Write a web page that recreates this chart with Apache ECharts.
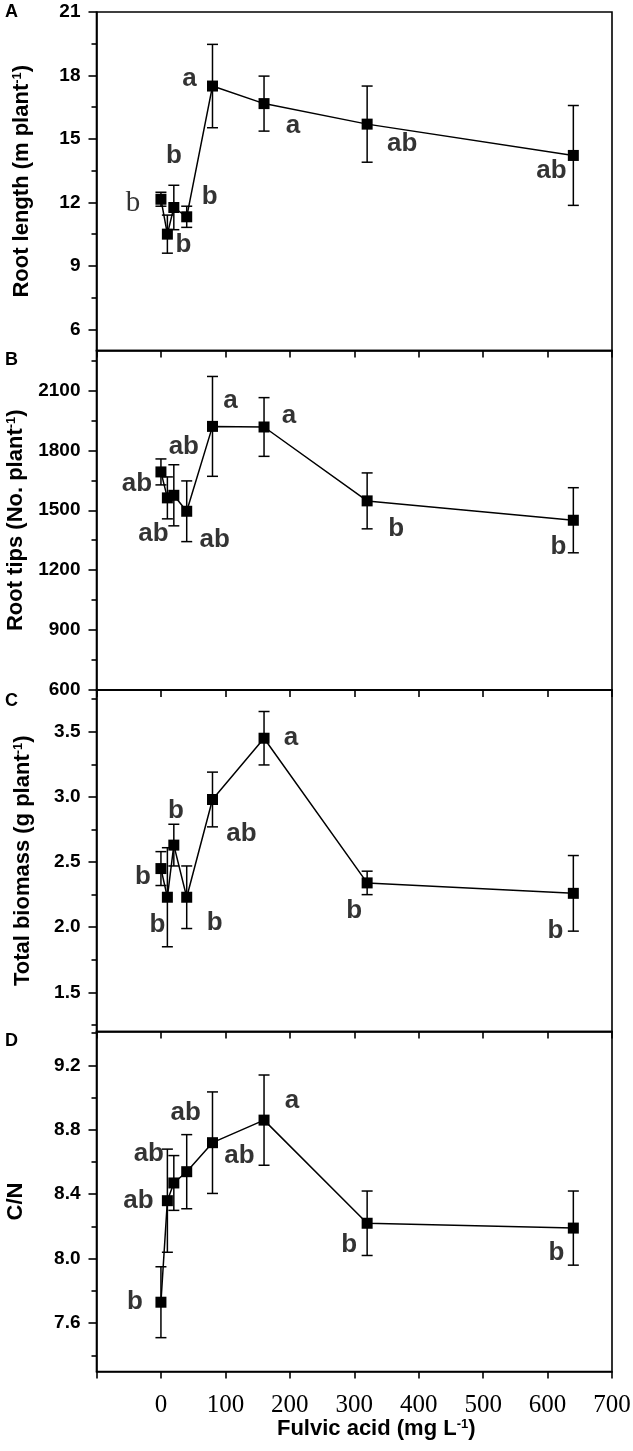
<!DOCTYPE html>
<html>
<head>
<meta charset="utf-8">
<script src="https://cdn.jsdelivr.net/npm/echarts@6/dist/echarts.min.js"></script>
<style>
  html, body { margin: 0; padding: 0; background: #fff; }
  #main { width: 633px; height: 1451px; }
</style>
</head>
<body>
<div id="main"></div>
<script>
// Fulvic acid concentration (mg L-1)
const conc = [0, 10, 20, 40, 80, 160, 320, 640]

// A - root length (m plant-1)
const rootLength = [12.15, 10.5, 11.76, 11.32, 17.5, 16.67, 15.7, 14.22]
const rootLengthErr = [0.33, 0.9, 1.05, 0.5, 1.97, 1.3, 1.8, 2.36]
const rootLengthLetters = ['b', 'b', 'b', 'b', 'a', 'a', 'ab', 'ab']

// B - root tips (No. plant-1)
const rootTips = [1692, 1562, 1575, 1495, 1920, 1917, 1547, 1450]
const rootTipsErr = [65, 105, 153, 152, 250, 147, 140, 163]
const rootTipsLetters = ['ab', 'ab', 'ab', 'ab', 'a', 'a', 'b', 'b']

// C - total biomass (g plant-1)
const biomass = [2.45, 2.23, 2.63, 2.23, 2.98, 3.45, 2.34, 2.26]
const biomassErr = [0.13, 0.38, 0.16, 0.24, 0.21, 0.205, 0.09, 0.29]
const biomassLetters = ['b', 'b', 'b', 'b', 'ab', 'a', 'b', 'b']

// D - C/N
const cn = [7.73, 8.36, 8.47, 8.54, 8.72, 8.86, 8.22, 8.19]
const cnErr = [0.22, 0.32, 0.17, 0.23, 0.315, 0.28, 0.2, 0.23]
const cnLetters = ['b', 'ab', 'ab', 'ab', 'ab', 'a', 'b', 'b']

// y ticks
const yMajor = [
  [6, 9, 12, 15, 18, 21],
  [600, 900, 1200, 1500, 1800, 2100],
  [1.5, 2.0, 2.5, 3.0, 3.5],
  [7.6, 8.0, 8.4, 8.8, 9.2]
]
const yMinor = [
  [7.5, 10.5, 13.5, 16.5, 19.5],
  [750, 1050, 1350, 1650, 1950, 2250],
  [1.25, 1.75, 2.25, 2.75, 3.25, 3.75],
  [7.4, 7.8, 8.2, 8.6, 9.0, 9.4]
]
const yMin = [5, 600, 1.2, 7.3]
const yMax = [21, 2300, 3.82, 9.41]
const yNames = [
  'Root length (m plant{sup|-1})',
  'Root tips (No. plant{sup|-1})',
  'Total biomass (g plant{sup|-1})',
  'C/N'
]
const panelLetters = ['A', 'B', 'C', 'D']

// layout / style (pixels)
const sans = "'Liberation Sans', Arial, sans-serif"
const serif = "'Liberation Serif', 'Times New Roman', serif"
const gridBoxes = [
  { top: 12, height: 338.5 },
  { top: 350.5, height: 339.5 },
  { top: 690, height: 341.5 },
  { top: 1031.5, height: 340 }
]
const nameGaps = [64, 66, 63, 70]
const letterTops = [3, 351, 692, 1032]
const letterOffsets = [
  [[-28, 4], [16, 11], [0, -52], [23, -20], [-23, -7], [29, 22], [35, 20], [-22, 15]],
  [[-24, 12], [-14, 36], [10, -48], [28, 29], [18, -26], [25, -11], [29, 28], [-15, 27]],
  [[-18, 8], [-10, 28], [2, -34], [28, 26], [29, 34], [27, 0], [-13, 28], [-18, 37]],
  [[-26, 0], [-29, 0], [-25, -29], [-1, -59], [27, 13], [28, -19], [-18, 22], [-17, 25]]
]

const panels = [
  { values: rootLength, errs: rootLengthErr, letters: rootLengthLetters },
  { values: rootTips, errs: rootTipsErr, letters: rootTipsLetters },
  { values: biomass, errs: biomassErr, letters: biomassLetters },
  { values: cn, errs: cnErr, letters: cnLetters }
]

const chart = echarts.init(document.getElementById('main'), null, { renderer: 'canvas' })

const grid = gridBoxes.map(g => ({
  left: 96.5,
  right: 21,
  top: g.top,
  height: g.height,
  show: true,
  borderColor: '#000',
  borderWidth: 1.6,
  backgroundColor: 'transparent',
  containLabel: false,
  outerBoundsMode: 'none'
}))

const supStyle = { fontSize: 13, fontWeight: 'bold', fontFamily: sans, color: '#000', verticalAlign: 'top' }

const xAxis = gridBoxes.map((g, i) => {
  const last = i === gridBoxes.length - 1
  return {
    type: 'value',
    gridIndex: i,
    min: -100,
    max: 700,
    interval: 100,
    splitLine: { show: false },
    axisLine: { onZero: false, lineStyle: { color: '#000', width: 1.6 } },
    axisTick: { show: true, inside: false, length: 7, lineStyle: { color: '#000', width: 1.6 } },
    axisLabel: {
      show: last,
      margin: 21,
      color: '#000',
      fontFamily: serif,
      fontWeight: 'normal',
      fontSize: 25,
      formatter: v => (v < 0 ? '' : String(v))
    },
    name: last ? 'Fulvic acid (mg L{sup|-1})' : '',
    nameLocation: 'middle',
    nameGap: 44,
    nameTextStyle: {
      color: '#000',
      fontFamily: sans,
      fontWeight: 'bold',
      fontSize: 22,
      padding: [0, 0, 0, 44],
      rich: { sup: supStyle }
    }
  }
})

const yAxis = []
gridBoxes.forEach((g, i) => {
  const fmt = i >= 2 ? v => v.toFixed(1) : v => String(v)
  // main axis: line, major ticks, labels, title
  yAxis.push({
    type: 'value',
    gridIndex: i,
    position: 'left',
    min: yMin[i],
    max: yMax[i],
    splitLine: { show: false },
    axisLine: { show: true, onZero: false, lineStyle: { color: '#000', width: 1.6 } },
    axisTick: { show: true, inside: false, length: 8, customValues: yMajor[i], lineStyle: { color: '#000', width: 1.6 } },
    axisLabel: {
      customValues: yMajor[i],
      margin: 16,
      color: '#000',
      fontFamily: sans,
      fontWeight: 'bold',
      fontSize: 19,
      formatter: fmt
    },
    name: yNames[i],
    nameLocation: 'middle',
    nameRotate: 90,
    nameGap: nameGaps[i],
    nameTextStyle: {
      color: '#000',
      fontFamily: sans,
      fontWeight: 'bold',
      fontSize: 22,
      rich: { sup: supStyle }
    }
  })
  // minor ticks only
  yAxis.push({
    type: 'value',
    gridIndex: i,
    position: 'left',
    offset: 0,
    min: yMin[i],
    max: yMax[i],
    splitLine: { show: false },
    axisLine: { show: false, onZero: false },
    axisTick: { show: true, inside: false, length: 5, customValues: yMinor[i], lineStyle: { color: '#000', width: 1.6 } },
    axisLabel: { show: false, customValues: yMinor[i] }
  })
})

function errorBars (i, p) {
  return {
    type: 'custom',
    xAxisIndex: i,
    yAxisIndex: i * 2,
    z: 2,
    silent: true,
    data: conc.map((c, k) => [c, p.values[k], p.errs[k]]),
    renderItem (params, api) {
      const x = api.value(0)
      const y = api.value(1)
      const e = api.value(2)
      const top = api.coord([x, y + e])
      const bot = api.coord([x, y - e])
      const w = 5.5
      const st = { stroke: '#000', lineWidth: 1.5 }
      return {
        type: 'group',
        children: [
          { type: 'line', shape: { x1: top[0], y1: top[1], x2: bot[0], y2: bot[1] }, style: st },
          { type: 'line', shape: { x1: top[0] - w, y1: top[1], x2: top[0] + w, y2: top[1] }, style: st },
          { type: 'line', shape: { x1: bot[0] - w, y1: bot[1], x2: bot[0] + w, y2: bot[1] }, style: st }
        ]
      }
    }
  }
}

function meanLine (i, p) {
  return {
    type: 'line',
    xAxisIndex: i,
    yAxisIndex: i * 2,
    z: 3,
    silent: true,
    data: conc.map((c, k) => [c, p.values[k]]),
    symbol: 'rect',
    symbolSize: 11,
    showAllSymbol: true,
    itemStyle: { color: '#000' },
    lineStyle: { color: '#000', width: 1.5 }
  }
}

function letterLabels (i, p) {
  return {
    type: 'scatter',
    xAxisIndex: i,
    yAxisIndex: i * 2,
    z: 4,
    silent: true,
    symbolSize: 0,
    data: conc.map((c, k) => {
      const serifOne = i === 0 && k === 0 // the odd serif "b" in panel A
      return {
        value: [c, p.values[k]],
        label: {
          show: true,
          position: 'inside',
          formatter: p.letters[k],
          offset: letterOffsets[i][k],
          color: '#000',
          textBorderWidth: 0,
          fontFamily: serifOne ? serif : sans,
          fontWeight: serifOne ? 'normal' : 'bold',
          fontSize: serifOne ? 29 : 26
        }
      }
    })
  }
}

const series = []
panels.forEach((p, i) => {
  series.push(errorBars(i, p))
  series.push(meanLine(i, p))
  series.push(letterLabels(i, p))
})

const graphic = panelLetters.map((t, i) => ({
  type: 'text',
  left: 5,
  top: letterTops[i],
  style: { text: t, fill: '#000', font: "bold 18px 'Liberation Sans'" }
}))

chart.setOption({
  animation: false,
  backgroundColor: '#fff',
  grid,
  xAxis,
  yAxis,
  series,
  graphic
})
</script>
</body>
</html>
